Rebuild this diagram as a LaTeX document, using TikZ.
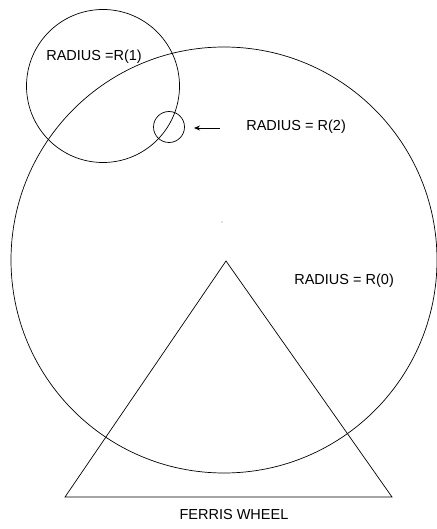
\documentclass[tikz,border=0pt]{standalone}
\usepackage{fontspec}
\setmainfont{Liberation Sans}
\usetikzlibrary{arrows.meta}
\begin{document}
\begin{tikzpicture}[x=1pt, y=-1pt, >={Stealth[length=6pt, width=5pt]}, line width=0.7pt,
	lbl/.style={inner sep=0pt, font=\fontsize{14.5}{16}\selectfont}]
	\useasboundingbox (0,0) rectangle (436,529);
	% Vòng lớn R(0)
	\draw (224,260) circle (213);
	\fill[gray] (222,222) circle (0.6);
	% Vòng R(1) và R(2)
	\draw (103,86) circle (76.5);
	\draw (169,127) circle (15.5);
	% Chân đỡ
	\draw (226,261) -- (392,497) -- (65,497) -- cycle;
	
	\node[lbl, anchor=west] (r1) at (46,57) {RADIUS =R(1)};
	\node[lbl, anchor=west] (r2) at (246,127) {RADIUS = R(2)};
	\node[lbl, anchor=west] (r0) at (294,281) {RADIUS = R(0)};
	\node[lbl] (title) at (234,515) {FERRIS WHEEL};
	
	\coordinate (from) at (220,128);
	\coordinate (to) at (194,128);
	\draw[->] (from) -- (to);
\end{tikzpicture}
\end{document}
